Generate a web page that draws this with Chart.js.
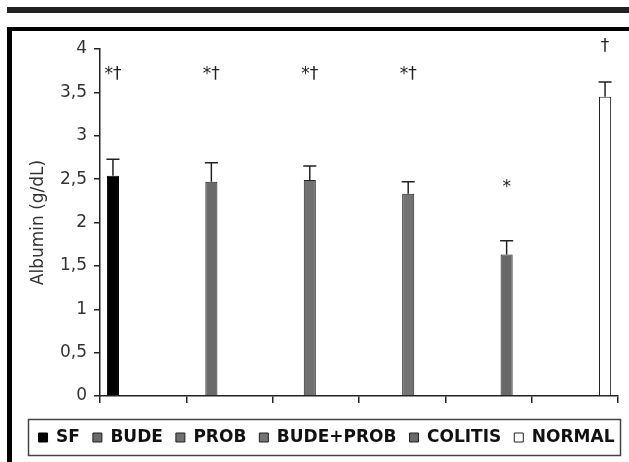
<!DOCTYPE html>
<html>
<head>
<meta charset="utf-8">
<script src="https://cdn.jsdelivr.net/npm/chart.js@4.4.0/dist/chart.umd.min.js"></script>
<style>
  body { margin: 0; background: #fff; }
</style>
</head>
<body>
<canvas id="albuminChart" width="629" height="462"></canvas>
<script>
// Albumin per group, mean + upper error bar
const groups = ['SF', 'BUDE', 'PROB', 'BUDE+PROB', 'COLITIS', 'NORMAL'];
const albuminMeans = [2.54, 2.47, 2.49, 2.33, 1.63, 3.45];
const albuminErrors = [0.19, 0.22, 0.16, 0.14, 0.16, 0.17];
const markLabels = ['*†', '*†', '*†', '*†', '*', '†'];
const markLevels = [3.70, 3.70, 3.70, 3.70, 2.40, 4.03];
const yTicks = [0, 0.5, 1, 1.5, 2, 2.5, 3, 3.5, 4];
const fillColors = ['#000000', '#6a6a6a', '#707070', '#737373', '#686868', '#ffffff'];

const FONT = 'DejaVu Sans';

// page frame, legend box
const framePlugin = {
    id: 'frame',
    beforeDraw(chart) {
        const ctx = chart.ctx;
        ctx.save();
        ctx.fillStyle = '#fff';
        ctx.fillRect(0, 0, chart.width, chart.height);
        ctx.fillStyle = '#222';
        ctx.fillRect(7, 7, 622, 6);
        ctx.fillStyle = '#000';
        ctx.fillRect(7, 27, 622, 4);
        ctx.fillRect(7, 27, 5, 435);
        ctx.strokeStyle = '#444';
        ctx.lineWidth = 1.5;
        ctx.strokeRect(28.5, 419.5, 592, 36);
        ctx.restore();
    }
};

// error bars and significance marks
const errorBarPlugin = {
    id: 'errorBars',
    afterDatasetsDraw(chart) {
        const ctx = chart.ctx;
        const y = chart.scales.y;
        ctx.save();
        ctx.strokeStyle = '#222';
        ctx.fillStyle = '#222';
        ctx.lineWidth = 1.5;
        ctx.font = '17px "' + FONT + '"';
        ctx.textAlign = 'center';
        ctx.textBaseline = 'middle';
        albuminMeans.forEach((mean, i) => {
            const bar = chart.getDatasetMeta(i).data[i];
            const top = y.getPixelForValue(mean + albuminErrors[i]);
            const half = bar.width / 2 + 0.5;
            ctx.beginPath();
            ctx.moveTo(bar.x, bar.y);
            ctx.lineTo(bar.x, top);
            ctx.moveTo(bar.x - half, top);
            ctx.lineTo(bar.x + half, top);
            ctx.stroke();
            ctx.fillText(markLabels[i], bar.x, y.getPixelForValue(markLevels[i]));
        });
        ctx.restore();
    }
};

const datasets = groups.map((name, i) => ({
    label: name,
    data: groups.map((g, j) => (j === i ? albuminMeans[i] : null)),
    backgroundColor: fillColors[i],
    borderColor: i === 0 ? '#000' : '#222',
    borderWidth: 1
}));

const ctx = document.getElementById('albuminChart').getContext('2d');
new Chart(ctx, {
    type: 'bar',
    data: { labels: groups, datasets: datasets },
    options: {
        responsive: false,
        animation: false,
        categoryPercentage: 0.84,
        barPercentage: 1.0,
        layout: { padding: { left: 24, right: 0, top: 49, bottom: 6 } },
        plugins: {
            legend: {
                position: 'bottom',
                labels: {
                    boxWidth: 9,
                    boxHeight: 9,
                    padding: 13,
                    color: '#111',
                    font: { family: FONT, size: 17, weight: 'bold' }
                }
            },
            tooltip: { enabled: false }
        },
        scales: {
            x: {
                afterFit: s => { s.height = 20; },
                border: { color: '#222', width: 1.5 },
                grid: { drawOnChartArea: false, tickLength: 7, color: '#222', lineWidth: 1.5, offset: true },
                ticks: { callback: () => '' }
            },
            y: {
                min: 0,
                max: 4,
                afterFit: s => { s.width = 76; },
                afterBuildTicks: s => { s.ticks = yTicks.map(v => ({ value: v })); },
                border: { color: '#222', width: 1.5 },
                grid: { drawOnChartArea: false, tickLength: 6, color: '#222', lineWidth: 1.5 },
                ticks: {
                    color: '#333',
                    padding: 7,
                    font: { family: FONT, size: 17 },
                    callback: v => String(v).replace('.', ',')
                },
                title: {
                    display: true,
                    text: 'Albumin (g/dL)',
                    color: '#333',
                    font: { family: FONT, size: 17 }
                }
            },
            // empty right-hand spacer so the plot ends short of the frame
            yRight: {
                position: 'right',
                afterFit: s => { s.width = 11; },
                grid: { display: false },
                border: { display: false },
                ticks: { display: false }
            }
        }
    },
    plugins: [framePlugin, errorBarPlugin]
});
</script>
</body>
</html>
